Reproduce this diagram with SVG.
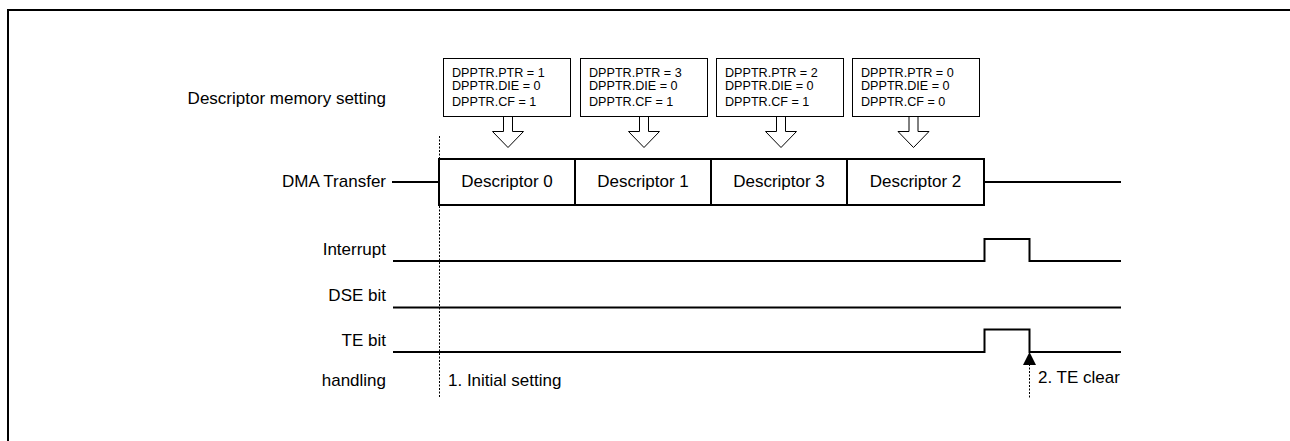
<svg xmlns="http://www.w3.org/2000/svg" width="1290" height="441" viewBox="0 0 1290 441">
<style>
.lbl{font-family:"Liberation Sans",Arial,sans-serif;font-size:17px;fill:#000}
.r{text-anchor:end}
.c{text-anchor:middle}
.sm{font-family:"Liberation Sans",Arial,sans-serif;font-size:12.6px;fill:#000}
.thick{fill:none;stroke:#000;stroke-width:2}
.thin{fill:#fff;stroke:#000;stroke-width:1}
.dot{fill:none;stroke:#000;stroke-width:1;stroke-dasharray:2,1.5}
</style>
<rect width="1290" height="441" fill="#fff"/>
<path d="M8 441V10H1290" class="thick"/>

<g id="labels">
<text class="lbl r" x="386" y="104">Descriptor memory setting</text>
<text class="lbl r" x="386" y="187">DMA Transfer</text>
<text class="lbl r" x="386" y="255">Interrupt</text>
<text class="lbl r" x="386" y="301">DSE bit</text>
<text class="lbl r" x="386" y="346">TE bit</text>
<text class="lbl r" x="386" y="386">handling</text>
</g>

<g id="setting0">
<rect class="thin" x="443.5" y="58.5" width="127" height="58"/>
<text class="sm" x="452" y="77">DPPTR.PTR = 1</text>
<text class="sm" x="452" y="90">DPPTR.DIE = 0</text>
<text class="sm" x="452" y="106">DPPTR.CF = 1</text>
<path class="thin" d="M503.5 117V131.5H492.5L508 147.5L523.5 131.5H512.5V117"/>
</g>
<g id="setting1">
<rect class="thin" x="580.5" y="58.5" width="127" height="58"/>
<text class="sm" x="589" y="77">DPPTR.PTR = 3</text>
<text class="sm" x="589" y="90">DPPTR.DIE = 0</text>
<text class="sm" x="589" y="106">DPPTR.CF = 1</text>
<path class="thin" d="M639.5 117V131.5H628.5L644 147.5L659.5 131.5H648.5V117"/>
</g>
<g id="setting2">
<rect class="thin" x="716.5" y="58.5" width="127" height="58"/>
<text class="sm" x="725" y="77">DPPTR.PTR = 2</text>
<text class="sm" x="725" y="90">DPPTR.DIE = 0</text>
<text class="sm" x="725" y="106">DPPTR.CF = 1</text>
<path class="thin" d="M776.5 117V131.5H765.5L781 147.5L796.5 131.5H785.5V117"/>
</g>
<g id="setting3">
<rect class="thin" x="852.5" y="58.5" width="127" height="58"/>
<text class="sm" x="861" y="77">DPPTR.PTR = 0</text>
<text class="sm" x="861" y="90">DPPTR.DIE = 0</text>
<text class="sm" x="861" y="106">DPPTR.CF = 0</text>
<path class="thin" d="M909 117V131.5H898L913.5 147.5L929 131.5H918V117"/>
</g>

<g id="dma">
<rect class="thick" x="439" y="159" width="136" height="46"/>
<rect class="thick" x="575" y="159" width="136" height="46"/>
<rect class="thick" x="711" y="159" width="136" height="46"/>
<rect class="thick" x="847" y="159" width="137" height="46"/>
<text class="lbl c" x="507" y="187">Descriptor 0</text>
<text class="lbl c" x="643" y="187">Descriptor 1</text>
<text class="lbl c" x="779" y="187">Descriptor 3</text>
<text class="lbl c" x="915.5" y="187">Descriptor 2</text>
</g>

<g id="connectors">
<path class="thick" d="M392 182H439M984 182H1121"/>
<path class="thick" d="M393 261H984.5V239H1029.5V261H1121"/>
<path class="thick" d="M393 307.5H1121"/>
<path class="thick" d="M393 352H984.5V329.5H1029.5V352H1121"/>
<path class="dot" d="M439.5 136V398"/>
<path class="dot" d="M1029.5 364V398"/>
<path d="M1029.5 352L1023 365H1036Z" fill="#000"/>
</g>

<g id="handling">
<text class="lbl" x="448" y="386">1. Initial setting</text>
<text class="lbl" x="1038" y="383">2. TE clear</text>
</g>
</svg>
